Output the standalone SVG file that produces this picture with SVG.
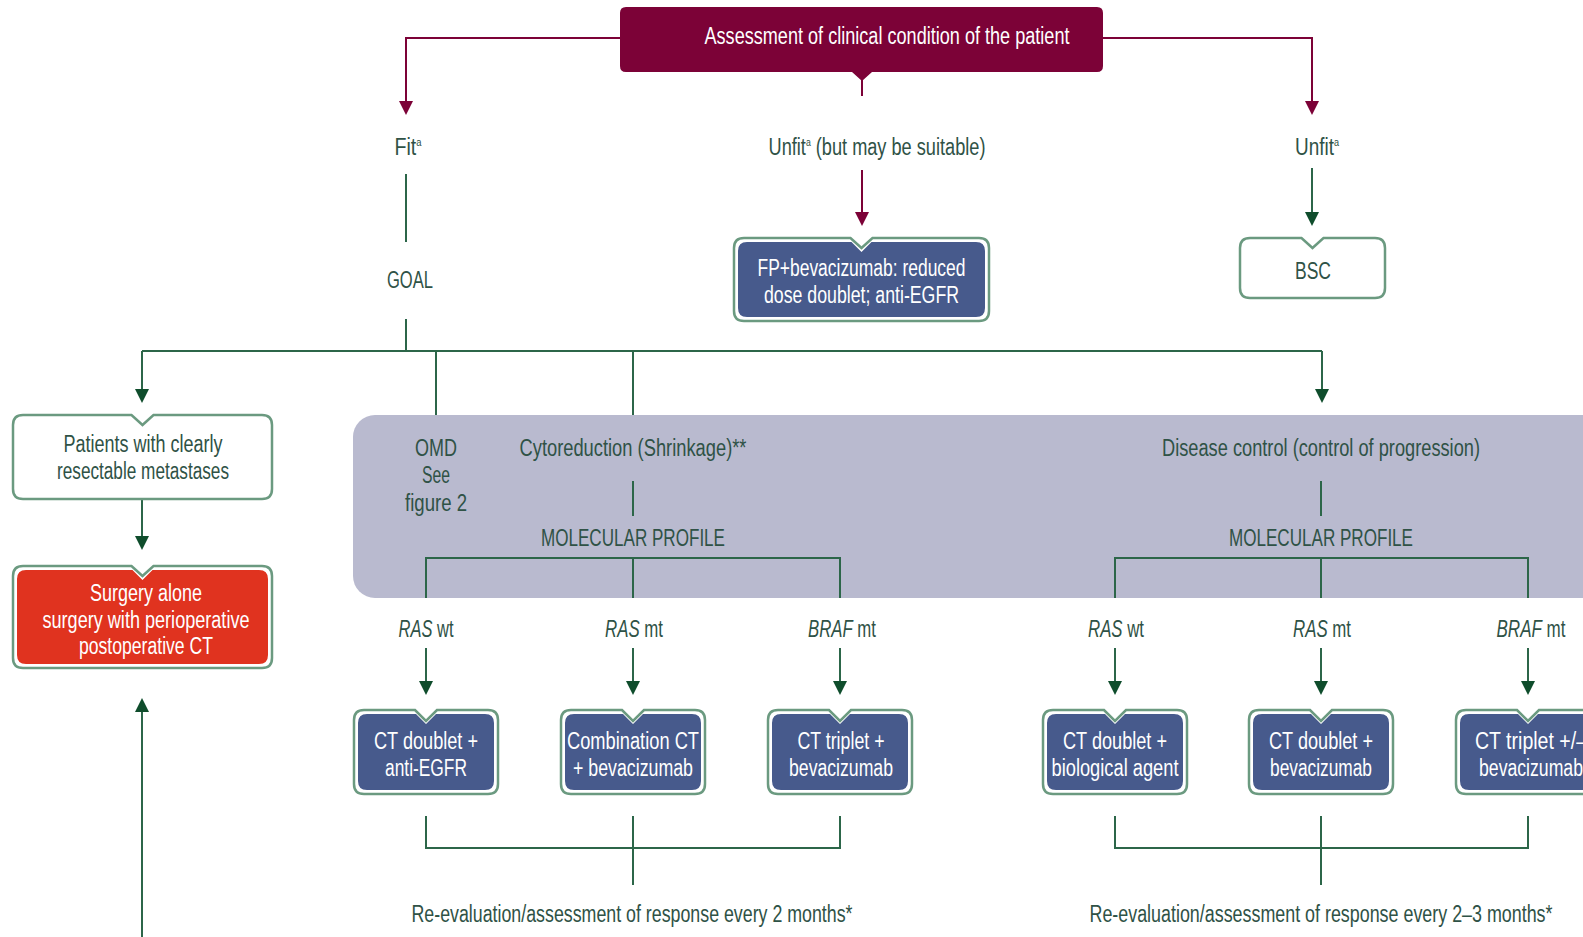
<svg xmlns="http://www.w3.org/2000/svg" xmlns:xlink="http://www.w3.org/1999/xlink" width="1583" height="937" viewBox="0 0 1583 937">
<style>
.ln{fill:none;stroke:#2c6649;stroke-width:2}
.lr{fill:none;stroke:#7c0237;stroke-width:2}
.t{font-family:"Liberation Sans",Arial,sans-serif;font-size:23px;fill:#2f5246;text-anchor:middle}
.w{fill:#ffffff}
.bo{fill:#ffffff;stroke:#6b9a80;stroke-width:2.5}
.bi{fill:#475a8c}
.red{fill:#e0331f}
.it{font-style:italic}
</style>
<defs>
<marker id="ag" viewBox="0 0 14 14" refX="12" refY="7" markerWidth="14" markerHeight="14" markerUnits="userSpaceOnUse" orient="auto"><path d="M0,0 L14,7 L0,14 Z" fill="#0f4d2c"/></marker>
<marker id="ar" viewBox="0 0 14 14" refX="12" refY="7" markerWidth="14" markerHeight="14" markerUnits="userSpaceOnUse" orient="auto"><path d="M0,0 L14,7 L0,14 Z" fill="#7c0237"/></marker>
<path id="rbo" d="M10,0 H61 L72,11 L83,0 H134 Q144,0 144,10 V74 Q144,84 134,84 H10 Q0,84 0,74 V10 Q0,0 10,0 Z"/>
<path id="rbi" d="M13,4 H62 L72,14 L82,4 H131 Q140,4 140,13 V71 Q140,80 131,80 H13 Q4,80 4,71 V13 Q4,4 13,4 Z"/>
</defs>
<rect width="1583" height="937" fill="#ffffff"/>
<g id="panel"><rect x="353" y="415" width="1300" height="183" rx="22" fill="#b9bacf"/></g>
<g id="connectors">
<path class="lr" d="M620,38 H406 V113" marker-end="url(#ar)"/>
<path class="lr" d="M1103,38 H1312 V113" marker-end="url(#ar)"/>
<path class="lr" d="M862,80 V96"/>
<path class="lr" d="M862,170 V224" marker-end="url(#ar)"/>
<path class="ln" d="M1312,168 V224" marker-end="url(#ag)"/>
<path class="ln" d="M406,174 V242"/>
<path class="ln" d="M406,319 V351"/>
<path class="ln" d="M142,351 H1322"/>
<path class="ln" d="M142,351 V401" marker-end="url(#ag)"/>
<path class="ln" d="M1322,351 V401" marker-end="url(#ag)"/>
<path class="ln" d="M436,351 V415"/>
<path class="ln" d="M633,351 V415"/>
<path class="ln" d="M142,499 V548" marker-end="url(#ag)"/>
<path class="ln" d="M142,937 V700" marker-end="url(#ag)"/>
<path class="ln" d="M633,481 V516"/>
<path class="ln" d="M1321,481 V516"/>
<path class="ln" d="M426,598 V558 H840 V598 M633,558 V598"/>
<path class="ln" d="M1115,598 V558 H1528 V598 M1321,558 V598"/>
<path class="ln" d="M426,648 V693" marker-end="url(#ag)"/>
<path class="ln" d="M633,648 V693" marker-end="url(#ag)"/>
<path class="ln" d="M840,648 V693" marker-end="url(#ag)"/>
<path class="ln" d="M1115,648 V693" marker-end="url(#ag)"/>
<path class="ln" d="M1321,648 V693" marker-end="url(#ag)"/>
<path class="ln" d="M1528,648 V693" marker-end="url(#ag)"/>
<path class="ln" d="M426,816 V848 H840 V816 M633,816 V885"/>
<path class="ln" d="M1115,816 V848 H1528 V816 M1321,816 V885"/>
</g>
<g id="title">
<path d="M626,7 H1097 Q1103,7 1103,13 V66 Q1103,72 1097,72 H872 L862,81 L852,72 H626 Q620,72 620,66 V13 Q620,7 626,7 Z" fill="#7c0237"/>
<text class="t w" x="887" y="44" textLength="365" lengthAdjust="spacingAndGlyphs">Assessment of clinical condition of the patient</text>
</g>
<g id="fit"><text class="t" x="408" y="155" textLength="27" lengthAdjust="spacingAndGlyphs">Fit<tspan font-size="11" dy="-9">a</tspan></text></g>
<g id="unfit-suitable"><text class="t" x="877" y="155" textLength="217" lengthAdjust="spacingAndGlyphs">Unfit<tspan font-size="11" dy="-9">a</tspan><tspan dy="9"> (but may be suitable)</tspan></text></g>
<g id="unfit"><text class="t" x="1317" y="155" textLength="44" lengthAdjust="spacingAndGlyphs">Unfit<tspan font-size="11" dy="-9">a</tspan></text></g>
<g id="goal"><text class="t" x="410" y="288" textLength="46" lengthAdjust="spacingAndGlyphs">GOAL</text></g>
<g id="fp">
<path class="bo" d="M744,238 H850.5 L861.5,248 L872.5,238 H979 Q989,238 989,248 V311 Q989,321 979,321 H744 Q734,321 734,311 V248 Q734,238 744,238 Z"/>
<path class="bi" d="M747,242 H851.5 L861.5,252 L871.5,242 H976 Q985,242 985,251 V308 Q985,317 976,317 H747 Q738,317 738,308 V251 Q738,242 747,242 Z"/>
<text class="t w" x="861.5" y="276" textLength="208" lengthAdjust="spacingAndGlyphs">FP+bevacizumab: reduced</text>
<text class="t w" x="861.5" y="303" textLength="195" lengthAdjust="spacingAndGlyphs">dose doublet; anti-EGFR</text>
</g>
<g id="bsc">
<path class="bo" d="M1250,238 H1301.5 L1312.5,248 L1323.5,238 H1375 Q1385,238 1385,248 V288 Q1385,298 1375,298 H1250 Q1240,298 1240,288 V248 Q1240,238 1250,238 Z"/>
<text class="t" x="1313" y="279" textLength="36" lengthAdjust="spacingAndGlyphs">BSC</text>
</g>
<g id="patients">
<path class="bo" d="M23,415 H131.5 L142.5,425 L153.5,415 H262 Q272,415 272,425 V489 Q272,499 262,499 H23 Q13,499 13,489 V425 Q13,415 23,415 Z"/>
<text class="t" x="143" y="452" textLength="159" lengthAdjust="spacingAndGlyphs">Patients with clearly</text>
<text class="t" x="143" y="479" textLength="172" lengthAdjust="spacingAndGlyphs">resectable metastases</text>
</g>
<g id="surgery">
<path class="bo" d="M23,566 H131.5 L142.5,576 L153.5,566 H262 Q272,566 272,576 V658 Q272,668 262,668 H23 Q13,668 13,658 V576 Q13,566 23,566 Z"/>
<path class="red" d="M26,570 H132.5 L142.5,580 L152.5,570 H259 Q268,570 268,579 V655 Q268,664 259,664 H26 Q17,664 17,655 V579 Q17,570 26,570 Z"/>
<text class="t w" x="146" y="601" textLength="112" lengthAdjust="spacingAndGlyphs">Surgery alone</text>
<text class="t w" x="146" y="628" textLength="207" lengthAdjust="spacingAndGlyphs">surgery with perioperative</text>
<text class="t w" x="146" y="654" textLength="134" lengthAdjust="spacingAndGlyphs">postoperative CT</text>
</g>
<g id="omd">
<text class="t" x="436" y="456" textLength="42" lengthAdjust="spacingAndGlyphs">OMD</text>
<text class="t" x="436" y="483" textLength="28" lengthAdjust="spacingAndGlyphs">See</text>
<text class="t" x="436" y="511" textLength="62" lengthAdjust="spacingAndGlyphs">figure 2</text>
</g>
<g id="cytoreduction">
<text class="t" x="633" y="456" textLength="227" lengthAdjust="spacingAndGlyphs">Cytoreduction (Shrinkage)**</text>
<text class="t" x="633" y="546" textLength="184" lengthAdjust="spacingAndGlyphs">MOLECULAR PROFILE</text>
</g>
<g id="disease-control">
<text class="t" x="1321" y="456" textLength="318" lengthAdjust="spacingAndGlyphs">Disease control (control of progression)</text>
<text class="t" x="1321" y="546" textLength="184" lengthAdjust="spacingAndGlyphs">MOLECULAR PROFILE</text>
</g>
<g id="markers-labels">
<text class="t" x="426" y="637" textLength="55" lengthAdjust="spacingAndGlyphs"><tspan class="it">RAS</tspan> wt</text>
<text class="t" x="634" y="637" textLength="58" lengthAdjust="spacingAndGlyphs"><tspan class="it">RAS</tspan> mt</text>
<text class="t" x="842" y="637" textLength="68" lengthAdjust="spacingAndGlyphs"><tspan class="it">BRAF</tspan> mt</text>
<text class="t" x="1116" y="637" textLength="56" lengthAdjust="spacingAndGlyphs"><tspan class="it">RAS</tspan> wt</text>
<text class="t" x="1322" y="637" textLength="58" lengthAdjust="spacingAndGlyphs"><tspan class="it">RAS</tspan> mt</text>
<text class="t" x="1531" y="637" textLength="69" lengthAdjust="spacingAndGlyphs"><tspan class="it">BRAF</tspan> mt</text>
</g>
<g id="box1"><use href="#rbo" x="354" y="710" class="bo"/><use href="#rbi" x="354" y="710" class="bi"/>
<text class="t w" x="426" y="749" textLength="104" lengthAdjust="spacingAndGlyphs">CT doublet +</text>
<text class="t w" x="426" y="776" textLength="82" lengthAdjust="spacingAndGlyphs">anti-EGFR</text></g>
<g id="box2"><use href="#rbo" x="561" y="710" class="bo"/><use href="#rbi" x="561" y="710" class="bi"/>
<text class="t w" x="633" y="749" textLength="132" lengthAdjust="spacingAndGlyphs">Combination CT</text>
<text class="t w" x="633" y="776" textLength="120" lengthAdjust="spacingAndGlyphs">+ bevacizumab</text></g>
<g id="box3"><use href="#rbo" x="768" y="710" class="bo"/><use href="#rbi" x="768" y="710" class="bi"/>
<text class="t w" x="841" y="749" textLength="87" lengthAdjust="spacingAndGlyphs">CT triplet +</text>
<text class="t w" x="841" y="776" textLength="104" lengthAdjust="spacingAndGlyphs">bevacizumab</text></g>
<g id="box4"><use href="#rbo" x="1043" y="710" class="bo"/><use href="#rbi" x="1043" y="710" class="bi"/>
<text class="t w" x="1115" y="749" textLength="104" lengthAdjust="spacingAndGlyphs">CT doublet +</text>
<text class="t w" x="1115" y="776" textLength="127" lengthAdjust="spacingAndGlyphs">biological agent</text></g>
<g id="box5"><use href="#rbo" x="1249" y="710" class="bo"/><use href="#rbi" x="1249" y="710" class="bi"/>
<text class="t w" x="1321" y="749" textLength="104" lengthAdjust="spacingAndGlyphs">CT doublet +</text>
<text class="t w" x="1321" y="776" textLength="102" lengthAdjust="spacingAndGlyphs">bevacizumab</text></g>
<g id="box6"><use href="#rbo" x="1456" y="710" class="bo"/><use href="#rbi" x="1456" y="710" class="bi"/>
<text class="t w" x="1531" y="749" textLength="112" lengthAdjust="spacingAndGlyphs">CT triplet +/–</text>
<text class="t w" x="1531" y="776" textLength="104" lengthAdjust="spacingAndGlyphs">bevacizumab</text></g>
<g id="reeval">
<text class="t" x="632" y="922" textLength="441" lengthAdjust="spacingAndGlyphs">Re-evaluation/assessment of response every 2 months*</text>
<text class="t" x="1321" y="922" textLength="463" lengthAdjust="spacingAndGlyphs">Re-evaluation/assessment of response every 2–3 months*</text>
</g>
</svg>
